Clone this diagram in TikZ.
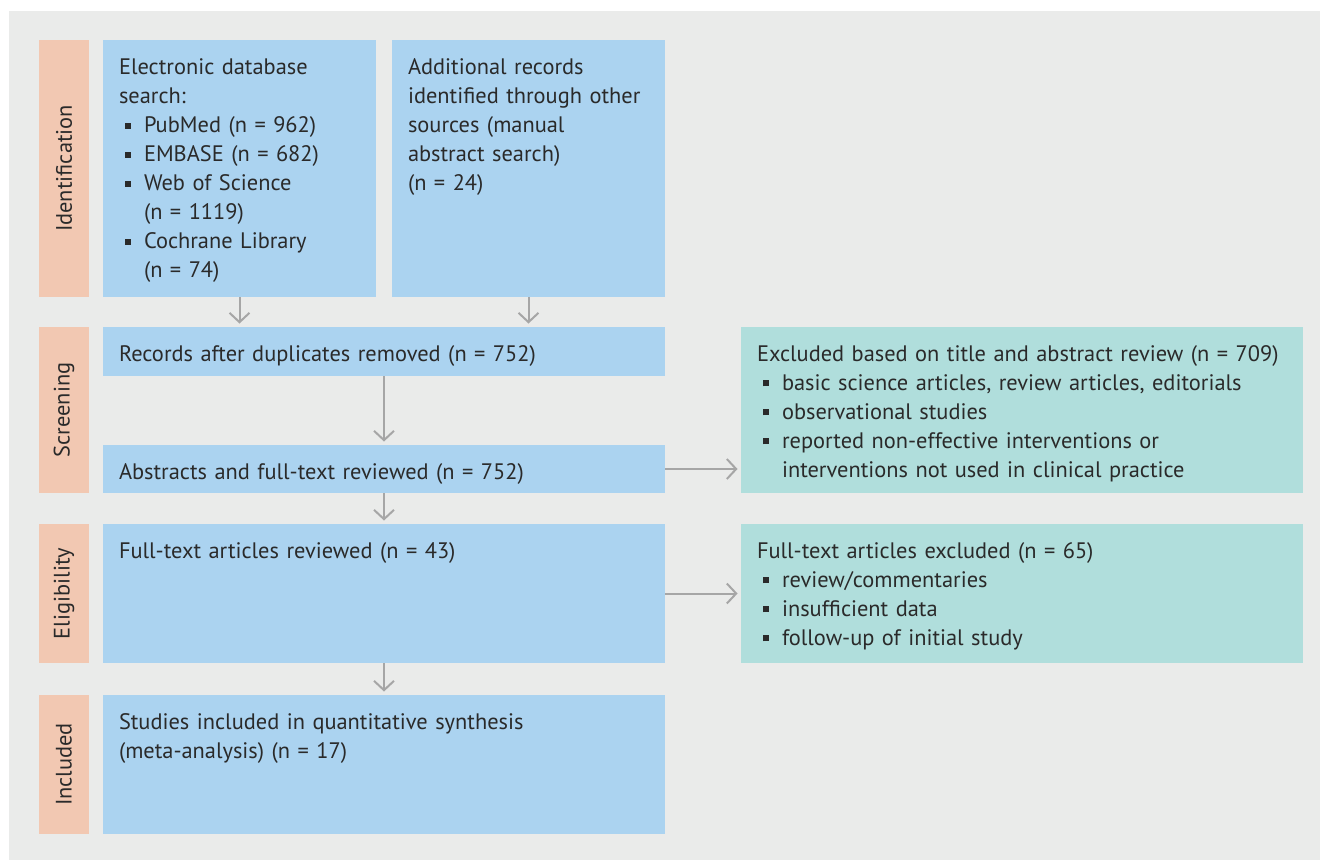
\documentclass[tikz,border=0pt]{standalone}
\usepackage{fontspec}
\setmainfont{PT Sans}
\usetikzlibrary{arrows.meta,calc}
\definecolor{bgc}{HTML}{EAEBEA}
\definecolor{salmon}{HTML}{F2C8B2}
\definecolor{bluec}{HTML}{ABD3F0}
\definecolor{tealc}{HTML}{B0DEDC}
\definecolor{arrc}{HTML}{A6A6A6}
\definecolor{txtc}{HTML}{2A2A2A}
\newcommand\mybul{\makebox[18.75pt][l]{\hspace{4.5pt}\raisebox{3pt}{\rule{4.5pt}{4.5pt}}}}
\newcommand\bitem[1]{\par\hangindent=18.75pt\hangafter=1\noindent\mybul #1\par}
\newcommand\bx[6]{\node[#2, anchor=north west, minimum width={(#5-#3)*0.75pt}, minimum height={(#6-#4)*0.75pt}] (#1) at (#3,#4) {};}
\tikzset{
  panel/.style={fill=#1, draw=none, inner sep=0pt, outer sep=0pt, rectangle},
  stage/.style={fill=salmon, draw=none, inner sep=0pt, outer sep=0pt, rotate=90,
    minimum height=37.5pt, text=txtc, font=\fontsize{16.8}{21.75}\selectfont},
  tx/.style={anchor=north west, inner sep=0pt, outer sep=0pt, text=txtc, align=left,
    font=\fontsize{16.8}{21.75}\selectfont},
  arr/.style={draw=arrc, line width=1.5pt, -{Straight Barb[length=7pt,width=15pt]}, shorten >=2.6pt}
}
\begin{document}
\begin{tikzpicture}[x=0.75pt,y=-0.75pt]
\useasboundingbox (0,0) rectangle (1320,860);
\fill[white] (0,0) rectangle (1320,860);
\fill[bgc] (9,11) rectangle (1320,860);
% stage labels
\node[stage, minimum width=192.75pt] (sid) at (64,168.5) {Identification};
\node[stage, minimum width=124.5pt] (ssc) at (64,410) {Screening};
\node[stage, minimum width=104.25pt] (sel) at (64,593.5) {Eligibility};
\node[stage, minimum width=104.25pt] (sin) at (64,764.5) {Included};
% boxes
\bx{b1}{panel=bluec}{103}{40}{376}{297}
\bx{b2}{panel=bluec}{392}{40}{665}{297}
\bx{rec}{panel=bluec}{103}{327}{665}{376}
\bx{abs}{panel=bluec}{103}{445}{665}{493}
\bx{full}{panel=bluec}{103}{524}{665}{663}
\bx{inc}{panel=bluec}{103}{695}{665}{834}
\bx{ex1}{panel=tealc}{741}{327}{1303}{493}
\bx{ex2}{panel=tealc}{741}{524}{1303}{663}
% texts
\node[tx, text width=180.75pt] (b1t) at ($(b1.north west)+(16,14.5)$) {\strut Electronic database\newline search:
\bitem{PubMed (n = 962)}
\bitem{EMBASE (n = 682)}
\bitem{Web of Science\newline (n = 1119)}
\bitem{Cochrane Library\newline (n = 74)}};
\node[tx, text width=180.75pt] (b2t) at ($(b2.north west)+(16,14.5)$) {\strut Additional records\\identified through other\\sources (manual\\abstract search)\\(n = 24)};
\node[tx, text width=397.5pt] (rect) at ($(rec.north west)+(16,14)$) {\strut Records after duplicates removed (n = 752)};
\node[tx, text width=397.5pt] (abst) at ($(abs.north west)+(16,14)$) {\strut Abstracts and full-text reviewed (n = 752)};
\node[tx, text width=397.5pt] (fullt) at ($(full.north west)+(16,14)$) {\strut Full-text articles reviewed (n = 43)};
\node[tx, text width=397.5pt] (inct) at ($(inc.north west)+(16,14)$) {\strut Studies included in quantitative synthesis\\(meta-analysis) (n = 17)};
\node[tx, text width=397.5pt] (ex1t) at ($(ex1.north west)+(16,14)$) {\strut Excluded based on title and abstract review (n = 709)
\bitem{basic science articles, review articles, editorials}
\bitem{observational studies}
\bitem{reported non-effective interventions or\newline interventions not used in clinical practice}};
\node[tx, text width=397.5pt] (ex2t) at ($(ex2.north west)+(16,14)$) {\strut Full-text articles excluded (n = 65)
\bitem{review/commentaries}
\bitem{insufficient data}
\bitem{follow-up of initial study}};
% arrows
\draw[arr] (b1.south) -- (b1.south |- rec.north);
\draw[arr] (b2.south) -- (b2.south |- rec.north);
\draw[arr] (rec.south) -- (abs.north);
\draw[arr] (abs.south) -- (full.north);
\draw[arr] (full.south) -- (inc.north);
\draw[arr] (abs.east) -- (abs.east -| ex1.west);
\draw[arr] (full.east) -- (full.east -| ex2.west);
\end{tikzpicture}
\end{document}
